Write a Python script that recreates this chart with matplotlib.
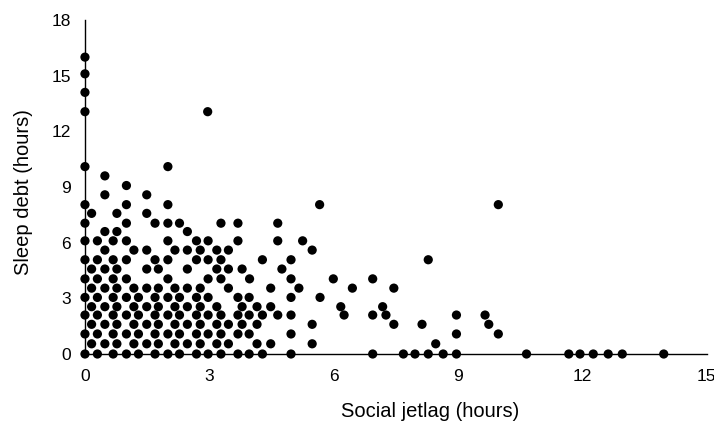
import matplotlib
matplotlib.use("Agg")
import matplotlib.pyplot as plt

plt.rcParams['font.family'] = ['Liberation Sans', 'DejaVu Sans']

# social jetlag (hours) of each respondent, grouped by sleep debt level (hours)
debt_levels = [0.0, 0.55, 1.08, 1.6, 2.1, 2.55, 3.05, 3.55, 4.05, 4.58,
               5.08, 5.6, 6.1, 6.6, 7.05, 7.58, 8.05, 8.58, 9.08, 9.6,
               10.1, 13.06, 14.1, 15.1, 16.0]

jet_0 = [0, 0.3, 0.68, 1.0, 1.29, 1.69, 2.0, 2.28, 2.69, 2.97, 3.28, 3.69,
         3.96, 4.28, 4.97, 6.94, 7.68, 7.96, 8.28, 8.64, 8.96, 10.65, 11.67,
         11.94, 12.26, 12.62, 12.96, 13.96]
jet_0_5 = [0.16, 0.48, 0.77, 1.18, 1.49, 1.77, 2.17, 2.47, 2.78, 3.18, 3.46,
           4.15, 4.48, 5.48, 8.46]
jet_1 = [0, 0.3, 0.68, 1.0, 1.29, 1.69, 2.0, 2.28, 2.69, 2.97, 3.28, 3.69,
         3.96, 4.97, 8.96, 9.97]
jet_1_5 = [0.16, 0.48, 0.77, 1.18, 1.49, 1.77, 2.17, 2.47, 2.78, 3.18, 3.46,
           3.79, 4.15, 5.48, 7.45, 8.13, 9.74]
jet_2 = [0, 0.3, 0.68, 1.0, 1.29, 1.69, 2.0, 2.28, 2.69, 2.97, 3.28, 3.69,
         3.96, 4.28, 4.65, 4.97, 6.25, 6.94, 7.26, 8.96, 9.65]
jet_2_5 = [0.16, 0.48, 0.77, 1.18, 1.49, 1.77, 2.17, 2.47, 2.78, 3.18, 3.79,
           4.15, 4.48, 6.17, 7.18]
jet_3 = [0, 0.3, 0.68, 1.0, 1.29, 1.69, 2.0, 2.28, 2.69, 2.97, 3.69, 3.96,
         4.97, 5.67]
jet_3_5 = [0.16, 0.48, 0.77, 1.18, 1.49, 1.77, 2.17, 2.47, 2.78, 3.46, 4.48,
           5.16, 6.45, 7.45]
jet_4 = [0, 0.3, 0.68, 1.0, 2.0, 2.97, 3.28, 3.97, 4.97, 5.99, 6.94]
jet_4_5 = [0.16, 0.48, 0.77, 1.49, 1.77, 2.47, 3.18, 3.46, 3.79, 4.75]
jet_5 = [0, 0.3, 0.68, 1.0, 1.69, 2.0, 2.69, 2.97, 3.28, 4.28, 4.97, 8.28]
jet_5_5 = [0.48, 1.18, 1.49, 2.17, 2.47, 2.78, 3.18, 3.46, 5.48]
jet_6 = [0, 0.3, 0.68, 1.0, 2.0, 2.69, 2.97, 3.69, 4.65, 5.25]
jet_6_5 = [0.48, 0.77, 2.47]
jet_7 = [0, 1.0, 1.69, 2.0, 2.28, 3.28, 3.69, 4.65]
jet_7_5 = [0.16, 0.77, 1.49]
jet_8 = [0, 1.0, 2.0, 5.66, 9.97]
jet_8_5 = [0.48, 1.49]
jet_9 = [1.0]
jet_9_5 = [0.48]
jet_10 = [0, 2.0]
jet_13 = [0, 2.96]
jet_14 = [0]
jet_15 = [0]
jet_16 = [0]

jet_groups = [jet_0, jet_0_5, jet_1, jet_1_5, jet_2, jet_2_5, jet_3, jet_3_5,
              jet_4, jet_4_5, jet_5, jet_5_5, jet_6, jet_6_5, jet_7, jet_7_5,
              jet_8, jet_8_5, jet_9, jet_9_5, jet_10, jet_13, jet_14, jet_15,
              jet_16]

x_ticks = [0, 3, 6, 9, 12, 15]
y_ticks = [0, 3, 6, 9, 12, 15, 18]


def main():
    xs, ys = [], []
    for level, group in zip(debt_levels, jet_groups):
        xs += group
        ys += [level] * len(group)

    fig = plt.figure(figsize=(7.14, 4.26), dpi=100)
    ax = fig.add_axes([0.119, 0.169, 0.871, 0.784])
    ax.scatter(xs, ys, s=44, color='black', edgecolors='none', clip_on=False, zorder=3)

    ax.set_xlim(0, 15)
    ax.set_ylim(0, 18)
    ax.set_xticks(x_ticks)
    ax.set_yticks(y_ticks)
    ax.tick_params(length=0, labelsize=12.5, colors='black')
    ax.tick_params(axis='x', pad=11)
    ax.tick_params(axis='y', pad=10)

    for side in ['top', 'right']:
        ax.spines[side].set_visible(False)
    for side in ['left', 'bottom']:
        ax.spines[side].set_linewidth(1.0)
        ax.spines[side].set_color('black')

    ax.set_xlabel('Social jetlag (hours)', fontsize=14.5)
    ax.set_ylabel('Sleep debt (hours)', fontsize=14.5)
    ax.xaxis.set_label_coords(0.555, -0.143)
    ax.yaxis.set_label_coords(-0.084, 0.485)

    fig.savefig('out.png', dpi=100)


if __name__ == '__main__':
    main()
